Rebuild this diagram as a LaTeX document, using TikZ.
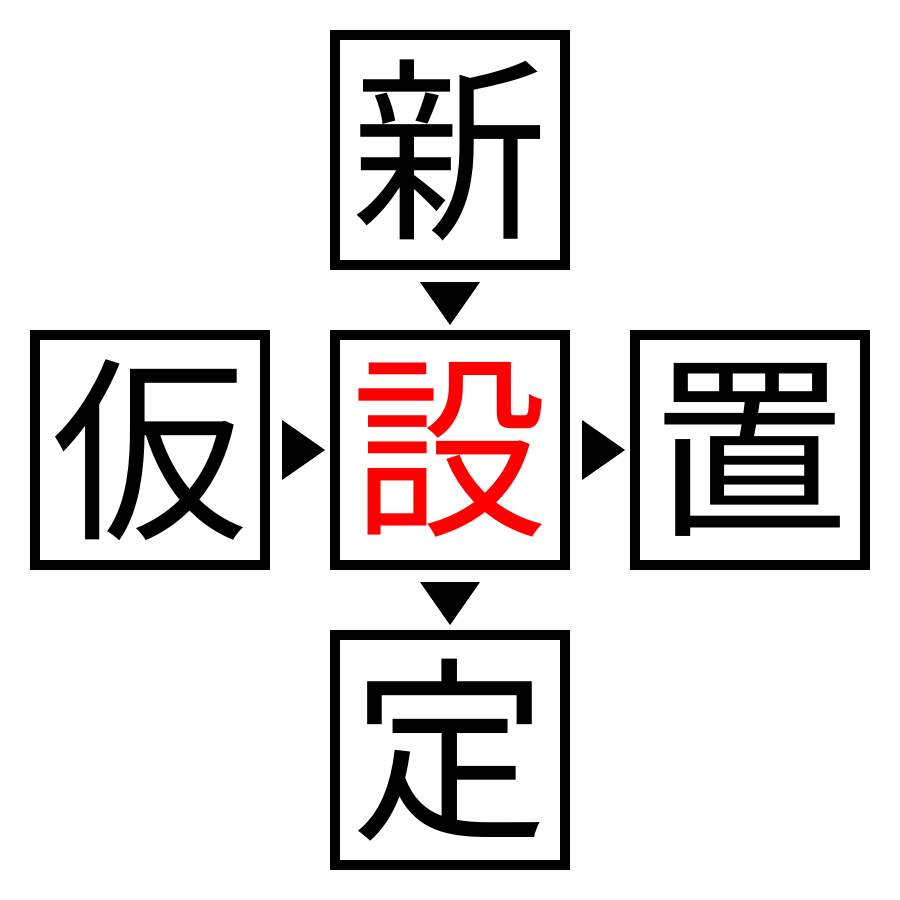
\documentclass[tikz,border=0pt]{standalone}
\usepackage{fontspec}
\newfontfamily\jp{Noto Sans CJK JP}
\usetikzlibrary{calc}
\tikzset{
  kbox/.style={draw=black, line width=10*0.01cm, minimum size=2.3cm, inner sep=0pt,
    font=\jp\fontsize{56pt}{56pt}\selectfont, text=black},
  tri/.style={fill=black, draw=none}
}
\begin{document}
\begin{tikzpicture}[x=0.01cm, y=-0.01cm]
\useasboundingbox (0,0) rectangle (900,900);
\node[kbox] (t) at (450,150) {新};
\node[kbox] (l) at (150,450) {仮};
\node[kbox, text=red] (c) at (450,450) {設};
\node[kbox] (r) at (750,450) {置};
\node[kbox] (b) at (450,750) {定};
\fill[tri] ($(t.south)!0.5!(c.north)$) ++(-30,-18) -- ++(60,0) -- ++(-30,43) -- cycle;
\fill[tri] ($(c.south)!0.5!(b.north)$) ++(-30,-18) -- ++(60,0) -- ++(-30,43) -- cycle;
\fill[tri] ($(l.east)!0.5!(c.west)$) ++(-18,-30) -- ++(0,60) -- ++(43,-30) -- cycle;
\fill[tri] ($(c.east)!0.5!(r.west)$) ++(-18,-30) -- ++(0,60) -- ++(43,-30) -- cycle;
\end{tikzpicture}
\end{document}
